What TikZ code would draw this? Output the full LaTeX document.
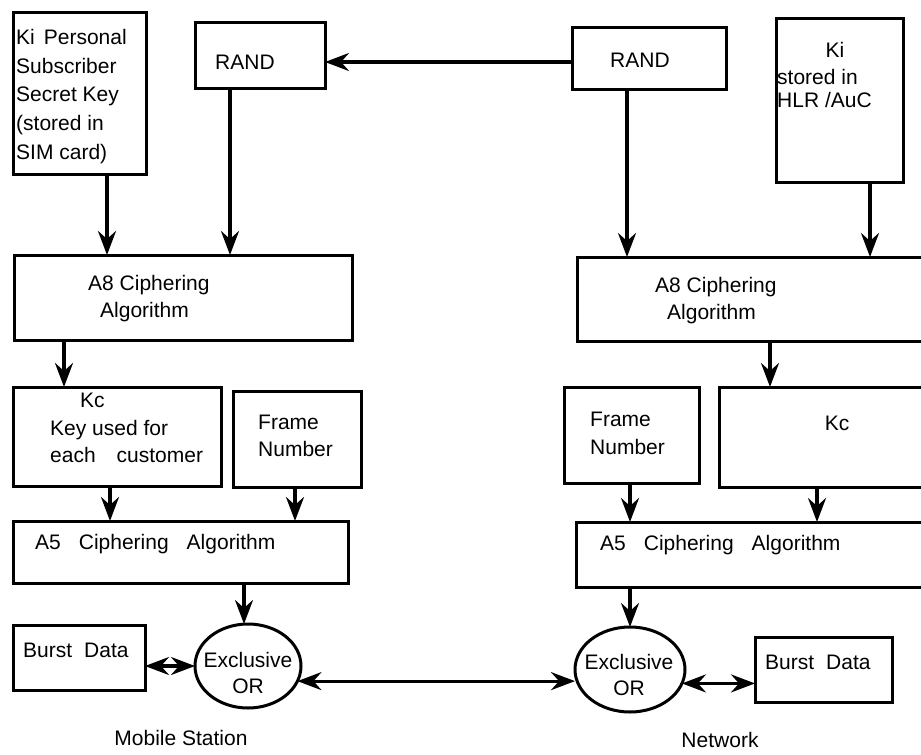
\documentclass[tikz,border=0pt]{standalone}
\usepackage{fontspec}
\setmainfont{Liberation Sans}
\usetikzlibrary{arrows.meta,shapes.geometric}

% rectangle given by its corners (x0,y0) and (x1,y1)
\newcommand\boxnode[5]{%
  \node[box, minimum width={(#4-#2)*1pt}, minimum height={(#5-#3)*1pt}]
    (#1) at ({(#2+#4)/2},{(#3+#5)/2}) {};}

\begin{document}
\begin{tikzpicture}[x=1pt, y=-1pt,
  box/.style={draw, line width=3pt, rectangle, inner sep=0pt, outer sep=0pt},
  xor/.style={draw, line width=3pt, ellipse, inner sep=0pt, outer sep=0pt},
  txt/.style={inner sep=0pt, anchor=west, text height=15pt, text depth=4pt,
              font=\fontsize{21}{27}\selectfont},
  blk/.style={inner sep=0pt, anchor=north west, align=left,
              font=\fontsize{21}{#1}\selectfont},
  tip/.tip={Stealth[length=24pt,width=18pt,inset=8pt]},
  arr/.style={line width=3.2pt, -tip},
  dbl/.style={line width=3.2pt, tip-tip}]

\useasboundingbox (0,0) rectangle (921,755);
\clip (0,0) rectangle (921,755);

% ---- boxes ----
\boxnode{kiL}{13}{12}{146}{174}
\boxnode{randL}{195}{22}{325}{88}
\boxnode{randR}{572}{27}{726}{89}
\boxnode{kiR}{776}{18}{903}{182}
\boxnode{a8L}{14}{255}{352}{340}
\boxnode{a8R}{577}{257}{935}{341}
\boxnode{kcL}{13}{387}{221}{486}
\boxnode{fnL}{233}{391}{361}{487}
\boxnode{fnR}{564}{387}{699}{483}
\boxnode{kcR}{719}{387}{935}{487}
\boxnode{a5L}{13}{521}{348}{583}
\boxnode{a5R}{576}{522}{935}{587}
\boxnode{burstL}{13}{625}{145}{690}
\boxnode{burstR}{755}{637}{892}{702}

\node[xor, minimum width=106pt, minimum height=84pt] (xorL) at (248,666) {};
\node[xor, minimum width=110pt, minimum height=85pt] (xorR) at (630,669.5) {};

% ---- texts ----
\node[blk=28.75] (tKiL) at (16,29) {Ki\hspace{9pt}Personal\\Subscriber\\Secret Key\\(stored in\\SIM card)};
\node[txt] (tRandL) at (215,64) {RAND};
\node[txt] (tRandR) at (610,62) {RAND};
\node[txt, anchor=center] (tKiR) at (835,52) {Ki};
\node[blk=23] (tKiR2) at (777,69) {stored in\\HLR /AuC};

\node[txt] (tA8La) at (88,285) {A8 Ciphering};
\node[txt] (tA8Lb) at (100,312) {Algorithm};
\node[txt] (tA8Ra) at (655,287) {A8 Ciphering};
\node[txt] (tA8Rb) at (667,314) {Algorithm};

\node[txt] (tKcL) at (80,402) {Kc};
\node[blk=27] (tKcL2) at (50,420) {Key used for\\each\hspace{21pt}customer};
\node[blk=27] (tFnL) at (258,415) {Frame\\Number};
\node[blk=28] (tFnR) at (590,412) {Frame\\Number};
\node[txt, anchor=center] (tKcR) at (837,425) {Kc};

\node[txt] (tA5L) at (35,544) {A5\hspace{18pt}Ciphering\hspace{18pt}Algorithm};
\node[txt] (tA5R) at (600,545) {A5\hspace{18pt}Ciphering\hspace{18pt}Algorithm};

\node[txt] (tBurstL) at (23,652) {Burst\hspace{12pt}Data};
\node[txt] (tBurstR) at (765,664) {Burst\hspace{12pt}Data};

\node[inner sep=0pt, align=center, font=\fontsize{21}{26}\selectfont] (tXorL) at (248,673) {Exclusive\\OR};
\node[inner sep=0pt, align=center, font=\fontsize{21}{26}\selectfont] (tXorR) at (629,675) {Exclusive\\OR};

\node[txt, anchor=center] (tMS) at (181,740) {Mobile Station};
\node[txt, anchor=center] (tNet) at (720,742) {Network};

% ---- connectors ----
\coordinate (randIn) at ([yshift=-4pt]randR.west);
\draw[arr] (randIn) -- (randIn -| randL.east);

\draw[arr] ([xshift=94pt]kiL.south west) -- ([xshift=93pt]a8L.north west);
\draw[arr] ([xshift=35pt]randL.south west) -- ([xshift=216pt]a8L.north west);
\draw[arr] ([xshift=55pt]randR.south west) -- ([xshift=50pt]a8R.north west);
\draw[arr] ([xshift=94pt]kiR.south west) -- ([xshift=293pt]a8R.north west);

\draw[arr] ([xshift=50pt]a8L.south west) -- ([xshift=51pt]kcL.north west);
\draw[arr] ([xshift=193pt]a8R.south west) -- ([xshift=51pt]kcR.north west);

\draw[arr] ([xshift=97pt]kcL.south west) -- ([xshift=97pt]a5L.north west);
\draw[arr] ([xshift=62pt]fnL.south west) -- ([xshift=282pt]a5L.north west);
\draw[arr] ([xshift=66pt]fnR.south west) -- ([xshift=54pt]a5R.north west);
\draw[arr] ([xshift=98pt]kcR.south west) -- ([xshift=241pt]a5R.north west);

\draw[arr] ([xshift=-4pt]xorL.north |- a5L.south) -- ([xshift=-4pt]xorL.north);
\draw[arr] (xorR.north |- a5R.south) -- (xorR.north);

\draw[dbl] (xorL.west -| burstL.east) -- (xorL.west);
\draw[dbl] (xorL.-17) -- (xorL.-17 -| xorR.west);
\draw[dbl] (xorR.-15) -- (xorR.-15 -| burstR.west);

\end{tikzpicture}
\end{document}
